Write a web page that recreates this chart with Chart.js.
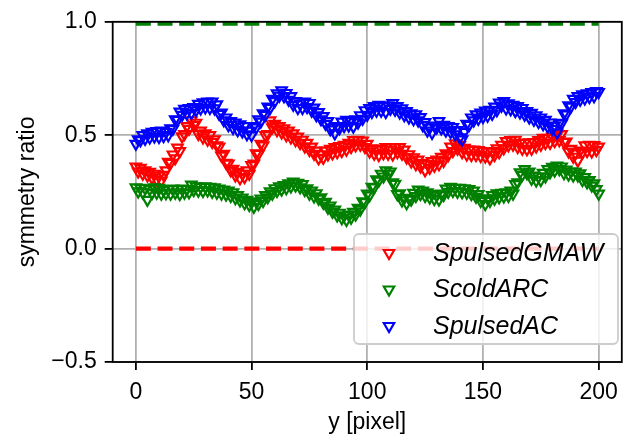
<!DOCTYPE html>
<html>
<head>
<meta charset="utf-8">
<script src="https://cdn.jsdelivr.net/npm/chart.js@4/dist/chart.umd.min.js"></script>
<style>
  html, body { margin: 0; padding: 0; background: #fff; }
  canvas { display: block; }
</style>
</head>
<body>
<canvas id="chart" width="630" height="437"></canvas>
<script>
// y position along the profile, 0..200 px
const yPixel = Array.from({length: 201}, (_, i) => i);

const xTicks = [0, 50, 100, 150, 200];
const yTicks = [-0.5, 0, 0.5, 1.0];

// symmetry ratio per pixel row
const spulsedGMAW = [
  0.362,0.340,0.356,0.330,0.345,0.322,0.338,0.312,0.330,0.305,
  0.322,0.300,0.325,0.345,0.382,0.378,0.415,0.398,0.445,0.430,
  0.495,0.505,0.540,0.528,0.566,0.545,0.555,0.505,0.520,0.490,
  0.508,0.480,0.500,0.470,0.482,0.455,0.450,0.410,0.418,0.378,
  0.375,0.345,0.352,0.322,0.338,0.310,0.330,0.315,0.345,0.330,
  0.368,0.375,0.420,0.418,0.462,0.455,0.500,0.505,0.565,0.535,
  0.550,0.522,0.540,0.512,0.530,0.500,0.520,0.490,0.508,0.478,
  0.494,0.465,0.480,0.450,0.466,0.435,0.450,0.418,0.432,0.398,
  0.415,0.400,0.432,0.415,0.440,0.420,0.447,0.425,0.452,0.430,
  0.458,0.436,0.466,0.448,0.478,0.455,0.480,0.458,0.476,0.448,
  0.462,0.428,0.442,0.418,0.436,0.412,0.440,0.420,0.447,0.418,
  0.436,0.415,0.446,0.425,0.448,0.418,0.436,0.402,0.416,0.384,
  0.402,0.372,0.392,0.362,0.378,0.345,0.374,0.356,0.386,0.365,
  0.392,0.372,0.404,0.386,0.420,0.412,0.450,0.430,0.464,0.440,
  0.456,0.425,0.444,0.415,0.436,0.412,0.436,0.412,0.434,0.408,
  0.430,0.406,0.428,0.398,0.430,0.412,0.442,0.425,0.458,0.442,
  0.474,0.455,0.478,0.458,0.480,0.448,0.466,0.440,0.466,0.438,
  0.468,0.440,0.470,0.450,0.478,0.458,0.488,0.465,0.488,0.466,
  0.495,0.474,0.500,0.478,0.505,0.470,0.472,0.428,0.440,0.405,
  0.420,0.388,0.432,0.425,0.455,0.430,0.458,0.428,0.456,0.434,
  0.450
];
const scoldARC = [
  0.270,0.252,0.268,0.248,0.266,0.215,0.262,0.245,0.270,0.246,
  0.268,0.242,0.258,0.244,0.262,0.242,0.264,0.246,0.262,0.240,
  0.264,0.246,0.262,0.248,0.282,0.258,0.275,0.255,0.272,0.254,
  0.274,0.256,0.272,0.250,0.270,0.246,0.264,0.242,0.260,0.238,
  0.256,0.232,0.248,0.222,0.236,0.212,0.225,0.200,0.215,0.192,
  0.205,0.184,0.208,0.196,0.220,0.210,0.236,0.226,0.252,0.242,
  0.266,0.254,0.274,0.260,0.280,0.266,0.288,0.274,0.295,0.278,
  0.290,0.270,0.284,0.258,0.266,0.242,0.256,0.230,0.244,0.220,
  0.226,0.202,0.206,0.180,0.190,0.162,0.172,0.146,0.158,0.134,
  0.146,0.126,0.150,0.136,0.162,0.150,0.180,0.172,0.208,0.205,
  0.242,0.235,0.272,0.270,0.305,0.300,0.330,0.318,0.345,0.330,
  0.340,0.292,0.285,0.240,0.244,0.212,0.224,0.200,0.222,0.216,
  0.246,0.232,0.260,0.240,0.256,0.232,0.248,0.225,0.240,0.218,
  0.236,0.216,0.242,0.236,0.264,0.250,0.272,0.254,0.268,0.250,
  0.268,0.248,0.266,0.246,0.262,0.240,0.256,0.228,0.240,0.210,
  0.218,0.196,0.222,0.210,0.236,0.220,0.244,0.226,0.246,0.230,
  0.248,0.232,0.256,0.242,0.284,0.292,0.336,0.325,0.350,0.332,
  0.340,0.308,0.322,0.300,0.318,0.302,0.334,0.318,0.350,0.336,
  0.360,0.344,0.366,0.350,0.362,0.332,0.348,0.326,0.340,0.322,
  0.340,0.322,0.332,0.302,0.315,0.292,0.302,0.278,0.288,0.262,
  0.242
];
const spulsedAC = [
  0.462,0.482,0.478,0.500,0.484,0.508,0.490,0.515,0.494,0.518,
  0.492,0.520,0.496,0.515,0.500,0.530,0.528,0.570,0.568,0.604,
  0.590,0.616,0.596,0.620,0.598,0.624,0.610,0.638,0.618,0.645,
  0.622,0.648,0.620,0.648,0.618,0.636,0.594,0.600,0.566,0.578,
  0.544,0.562,0.532,0.556,0.522,0.548,0.516,0.540,0.504,0.520,
  0.500,0.540,0.534,0.570,0.560,0.596,0.590,0.626,0.620,0.660,
  0.650,0.684,0.674,0.698,0.672,0.686,0.656,0.672,0.634,0.650,
  0.620,0.640,0.620,0.648,0.624,0.642,0.608,0.622,0.588,0.602,
  0.570,0.584,0.550,0.562,0.526,0.534,0.508,0.540,0.530,0.560,
  0.540,0.568,0.542,0.562,0.538,0.570,0.556,0.588,0.572,0.610,
  0.590,0.620,0.602,0.628,0.608,0.634,0.608,0.628,0.602,0.632,
  0.616,0.642,0.612,0.628,0.600,0.618,0.588,0.606,0.578,0.596,
  0.570,0.592,0.565,0.580,0.544,0.558,0.520,0.534,0.510,0.542,
  0.534,0.562,0.530,0.546,0.520,0.540,0.514,0.536,0.504,0.522,
  0.490,0.482,0.515,0.550,0.545,0.578,0.565,0.592,0.572,0.600,
  0.580,0.608,0.586,0.612,0.594,0.626,0.610,0.644,0.630,0.650,
  0.618,0.640,0.614,0.634,0.606,0.628,0.600,0.620,0.590,0.606,
  0.578,0.598,0.568,0.588,0.558,0.578,0.548,0.568,0.538,0.556,
  0.528,0.542,0.512,0.555,0.552,0.596,0.592,0.632,0.626,0.660,
  0.646,0.672,0.656,0.680,0.662,0.684,0.668,0.690,0.672,0.694,
  0.690
];
// reference levels drawn dashed
const refX = [0, 200];
const refTop = [1.0, 1.0];
const refZero = [0.0, 0.0];

const FONT = '"Liberation Sans", Arial, Helvetica, sans-serif';
Chart.defaults.font.family = FONT;
Chart.defaults.color = '#000';

const pts = (xs, ys) => xs.map((x, i) => ({x: x, y: ys[i]}));

function series(label, ys, color, order){
  return {
    label, data: pts(yPixel, ys), order, inLegend: true,
    showLine: false, pointStyle: 'triangle', rotation: 180,
    pointRadius: 6, pointHoverRadius: 6, pointBorderWidth: 2.2,
    borderColor: color, backgroundColor: 'rgba(0,0,0,0)',
    pointBackgroundColor: 'rgba(0,0,0,0)', pointBorderColor: color
  };
}
function refLine(ys, color, width){
  return {
    label: '', data: pts(refX, ys), order: 5, showLine: true, inLegend: false,
    borderColor: color, borderWidth: width, borderDash: [15, 6.7],
    pointRadius: 0, fill: false, clip: 0
  };
}

function drawTri(ctx, x, y, r, color){
  ctx.beginPath();
  ctx.moveTo(x, y + r);
  ctx.lineTo(x - 0.866 * r, y - 0.5 * r);
  ctx.lineTo(x + 0.866 * r, y - 0.5 * r);
  ctx.closePath();
  ctx.lineWidth = 2.2; ctx.strokeStyle = color; ctx.stroke();
}

const framePlugin = {
  id: 'frame',
  afterDatasetsDraw(chart){
    const {ctx, chartArea: a} = chart;
    ctx.save();
    ctx.strokeStyle = '#000'; ctx.lineWidth = 1.8;
    ctx.strokeRect(a.left, a.top, a.right - a.left, a.bottom - a.top);
    ctx.restore();
  },
  afterDraw(chart){
    const ctx = chart.ctx;
    ctx.save();
    ctx.beginPath();
    ctx.roundRect(354, 234, 264, 110, 5);
    ctx.fillStyle = 'rgba(255,255,255,0.8)'; ctx.fill();
    ctx.strokeStyle = '#cccccc'; ctx.lineWidth = 1.8; ctx.stroke();
    chart.data.datasets.filter(d => d.inLegend).forEach((d, i) => {
      const y = 253 + i * 36.5;
      drawTri(ctx, 389, y, 6, d.borderColor);
      ctx.fillStyle = '#000';
      ctx.font = 'italic 25px ' + FONT;
      ctx.textBaseline = 'middle';
      ctx.textAlign = 'left';
      ctx.fillText(d.label, 433, y + 1);
    });
    ctx.restore();
  }
};

new Chart(document.getElementById('chart'), {
  type: 'scatter',
  data: {
    datasets: [
      series('SpulsedGMAW', spulsedGMAW, '#ff0000', 3),
      series('ScoldARC', scoldARC, '#008000', 2),
      series('SpulsedAC', spulsedAC, '#0000ff', 1),
      refLine(refTop, '#008000', 8),
      refLine(refZero, '#ff0000', 4.2)
    ]
  },
  options: {
    responsive: false, animation: false, devicePixelRatio: 1,
    layout: {padding: {top: 18, right: 0, bottom: 0, left: 0}},
    plugins: {legend: {display: false}, tooltip: {enabled: false}},
    scales: {
      x: {
        type: 'linear', min: -10, max: 210,
        afterBuildTicks: s => { s.ticks = xTicks.map(v => ({value: v})); },
        afterFit: s => { s.height = 75; },
        grid: {color: '#b0b0b0', lineWidth: 1.8, tickLength: 8, tickColor: '#000', tickWidth: 1.8},
        border: {display: false},
        ticks: {font: {size: 23}, padding: 9, maxRotation: 0, callback: v => String(v)},
        title: {display: true, text: 'y [pixel]', font: {size: 23}, padding: {top: 0, bottom: 1}}
      },
      y: {
        type: 'linear', min: -0.5, max: 1.0,
        afterBuildTicks: s => { s.ticks = yTicks.map(v => ({value: v})); },
        afterFit: s => { s.width = 112.7; },
        grid: {color: '#b0b0b0', lineWidth: 1.8, tickLength: 8, tickColor: '#000', tickWidth: 1.8},
        border: {display: false},
        ticks: {font: {size: 23}, padding: 8,
          callback: v => (v < 0 ? '\u2212' : '') + Math.abs(v).toFixed(1)},
        title: {display: true, text: 'symmetry ratio', font: {size: 23}, padding: {top: 14, bottom: 0}}
      }
    }
  },
  plugins: [framePlugin]
});
</script>
</body>
</html>
